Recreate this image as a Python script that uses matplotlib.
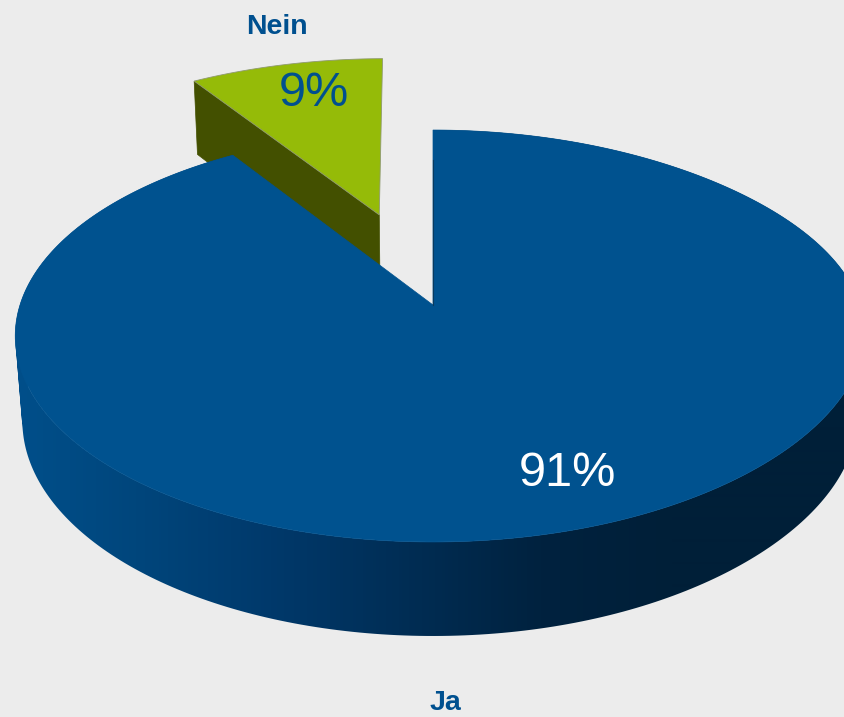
import numpy as np
import matplotlib
matplotlib.use("Agg")
import matplotlib.pyplot as plt
from matplotlib.patches import Polygon
from matplotlib.path import Path
from matplotlib.colors import LinearSegmentedColormap

categories = ["Ja", "Nein"]
values = [91, 9]
value_labels = ["91%", "9%"]
explode = [0.0, 0.5]

BG = "#ECECEC"
BLUE = "#00528F"
GREEN = "#95BB08"
GREEN_SIDE = "#435000"
TEXT = "#00508F"

# perspective projection of the pie disc into the picture
CX, CY, A, H, K, DROP, WID, BULGE = 433.0, 305.0, 413.0, 201.3, 0.1505, 85.5, 0.017, 14.0


def project(u, v, low=False):
    w = 1 + K * v + (WID if low else 0)
    x = CX + A * u / w + BULGE * np.clip(u, 0, None) ** 4
    y = CY + ((-H * v + DROP) if low else (-H * v)) / w
    return np.column_stack([x, y])


def signed_area(q):
    x, y = q[:, 0], q[:, 1]
    return 0.5 * np.sum(x * np.roll(y, -1) - np.roll(x, -1) * y)


fig = plt.figure(figsize=(8.44, 7.17), dpi=100, facecolor=BG)
ax = fig.add_axes([0, 0, 1, 1])
ax.axis("off")

total = sum(values)
sweep_ja = 2 * np.pi * values[0] / total
sweep_no = 2 * np.pi * values[1] / total

# Nein slice (exploded), angles measured clockwise from the top
mid_no = sweep_ja + sweep_no / 2
t_no = np.linspace(sweep_ja, sweep_ja + sweep_no, 60) - 0.01
du, dv = explode[1] * np.sin(mid_no), explode[1] * np.cos(mid_no)
u_no, v_no = 1.02 * np.sin(t_no) + du, 1.02 * np.cos(t_no) + dv

apex_top = project(np.array([du]), np.array([dv]))
apex_low = project(np.array([du]), np.array([dv]), low=True)
corner_top = project(u_no[:1], v_no[:1])
corner_low = project(u_no[:1], v_no[:1], low=True)
ax.add_patch(Polygon(np.vstack([corner_top, apex_top, apex_low, corner_low]),
                     closed=True, fc=GREEN_SIDE, ec=GREEN_SIDE, lw=0.5, zorder=1))
ax.add_patch(Polygon(np.vstack([apex_top, project(u_no, v_no)]),
                     closed=True, fc=GREEN, ec="#8f9a70", lw=0.6, zorder=2))

# Ja slice: side wall with horizontal shading, clipped to the swept rim
t_ja = np.linspace(0, sweep_ja - 0.012, 361)
u_ja, v_ja = np.sin(t_ja), np.cos(t_ja)
top_rim = project(u_ja, v_ja)
low_rim = project(u_ja, v_ja, low=True)
cmap = LinearSegmentedColormap.from_list(
    "wall",
    [(0.0, "#00508C"), (0.16, "#00467C"), (0.32, "#00396B"), (0.50, "#002C52"),
     (0.64, "#00223F"), (0.80, "#001F38"), (1.0, "#001F38")])

verts, codes = [], []
for i in range(len(t_ja) - 1):
    q = np.array([top_rim[i], top_rim[i + 1], low_rim[i + 1], low_rim[i]])
    if signed_area(q) < 0:
        q = q[::-1]
    verts.extend(list(q) + [q[0]])
    codes.extend([Path.MOVETO, Path.LINETO, Path.LINETO, Path.LINETO, Path.CLOSEPOLY])
wall_path = Path(np.array(verts), codes)

im = ax.imshow(np.linspace(0, 1, 844)[None, :], cmap=cmap, vmin=0, vmax=1,
               extent=[0, 844, 717, 0], aspect="auto", zorder=3,
               interpolation="bilinear")
ax.set_xlim(0, 844)
ax.set_ylim(717, 0)
im.set_clip_path(wall_path, transform=ax.transData)
ax.add_patch(Polygon(np.vstack([[[CX, CY]], top_rim]), closed=True,
                     fc=BLUE, ec=BLUE, lw=0.5, zorder=4))
ax.plot([CX, CX], [CY, top_rim[0, 1] + 30], color="#0A3A5E", lw=0.8, zorder=5)

font = "Liberation Sans"
ax.text(567, 473, value_labels[0], color="white", fontsize=35, family=font,
        ha="center", va="center", zorder=6)
ax.text(314, 94, value_labels[1], color=TEXT, fontsize=35, family=font,
        ha="center", va="center", zorder=6)
ax.text(445, 710, categories[0], color=TEXT, fontsize=20.5, fontweight="bold",
        family=font, ha="center", va="baseline", zorder=6)
ax.text(277, 27, categories[1], color=TEXT, fontsize=20.5, fontweight="bold",
        family=font, ha="center", va="center", zorder=6)

fig.savefig("out.png", dpi=100, facecolor=BG)
